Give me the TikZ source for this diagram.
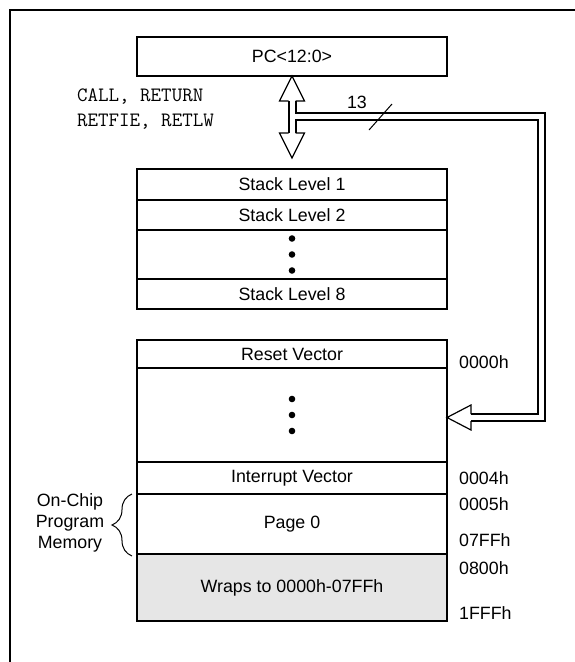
\documentclass[tikz,border=0pt]{standalone}
\usepackage{fontspec}
\setmainfont{Liberation Sans}
\usepackage{tikz}
\usetikzlibrary{positioning,calc,decorations.pathreplacing}
\definecolor{wrapgray}{HTML}{E6E6E6}
\newcommand{\diagfont}{\fontsize{17.8}{21}\selectfont}
\newcommand{\opfont}{\ttfamily\fontsize{20.4}{25}\selectfont}

\begin{document}
\begin{tikzpicture}[
    x=1pt, y=-1pt,
    cell/.style={rectangle, draw, line width=2pt, minimum width=310pt, inner sep=0pt, outer sep=0pt, font=\diagfont},
    addr/.style={anchor=west, inner sep=0pt, font=\diagfont},
    op/.style={anchor=west, inner sep=0pt, font=\opfont},
    bus/.style={line width=2pt, line join=miter},
    head/.style={line width=1.2pt, line join=miter}
]
    \useasboundingbox (0,0) rectangle (575,662);
    \draw[line width=2.5pt] (10,662) |- (575,10);

    \node[cell, minimum height=39pt, anchor=north] (pc) at (292,37) {PC<12:0>};

    \node[cell, minimum height=31pt, anchor=north] (s1) at (292,169) {Stack Level 1};
    \node[cell, minimum height=30pt, below=0pt of s1] (s2) {Stack Level 2};
    \node[cell, minimum height=49pt, below=0pt of s2] (sdots) {};
    \node[cell, minimum height=30pt, below=0pt of sdots] (s8) {Stack Level 8};
    \foreach \d in {-16,0,16}
        \fill ($(sdots.center)+(0,\d)$) circle (3.3pt);

    \node[cell, minimum height=28pt, anchor=north] (reset) at (292,340) {Reset Vector};
    \node[cell, minimum height=94pt, below=0pt of reset] (mdots) {};
    \node[cell, minimum height=32pt, below=0pt of mdots] (intr) {Interrupt Vector};
    \node[cell, minimum height=60pt, below=0pt of intr] (page0) {Page 0};
    \node[cell, minimum height=67pt, below=0pt of page0, fill=wrapgray] (wrap) {Wraps to 0000h-07FFh};
    \foreach \d in {-16,0,16}
        \fill ($(mdots.center)+(0,\d)$) circle (3.3pt);

    \node[addr] (a0000) at (459,362) {0000h};
    \node[addr] (a0004) at (459,478) {0004h};
    \node[addr] (a0005) at (459,504) {0005h};
    \node[addr] (a07ff) at (459,540) {07FFh};
    \node[addr] (a0800) at (459,568) {0800h};
    \node[addr] (a1fff) at (459,613) {1FFFh};

    \node[op] (calls) at (77,97) {CALL, RETURN};
    \node[op] (rets) at (77,122) {RETFIE, RETLW};

    \node[align=center, font=\diagfont] (onchip) at (70,523) {On-Chip\\Program\\Memory};
    \draw[line width=1pt, decorate, decoration={brace, amplitude=20pt}]
        ($(page0.south west)+(-5,2)$) -- ($(page0.north west)+(-5,0)$);

    \coordinate (up) at (pc.south);
    \coordinate (dn) at ($(s1.north)+(0,-11)$);
    \coordinate (tip) at ($(mdots.east)+(0,2.5)$);
    \coordinate (bend) at (541.5,116.5);

    \draw[head] ($(up)+(-3.5,25)$) -- ++(-9,0) -- (up) -- ++(12.5,25) -- ++(-9,0);
    \draw[head] ($(dn)+(-3.5,-25)$) -- ++(-9,0) -- (dn) -- ++(12.5,-25) -- ++(-9,0);
    \draw[bus] ($(up)+(-3.5,25)$) -- ($(dn)+(-3.5,-25)$);
    \draw[bus] ($(up)+(3.5,25)$) |- ($(bend)+(3.5,-3.5)$) |- ($(tip)+(24,3.5)$);
    \draw[bus] ($(dn)+(3.5,-25)$) |- ($(bend)+(-3.5,3.5)$) |- ($(tip)+(24,-3.5)$);
    \draw[head] ($(tip)+(24,-3.5)$) -- ++(0,-9) -- (tip) -- ++(24,12.5) -- ++(0,-9);

    \node[font=\diagfont] (width) at (357,102) {13};
    \draw[line width=1pt] (369,130) -- (392,104);
\end{tikzpicture}
\end{document}
